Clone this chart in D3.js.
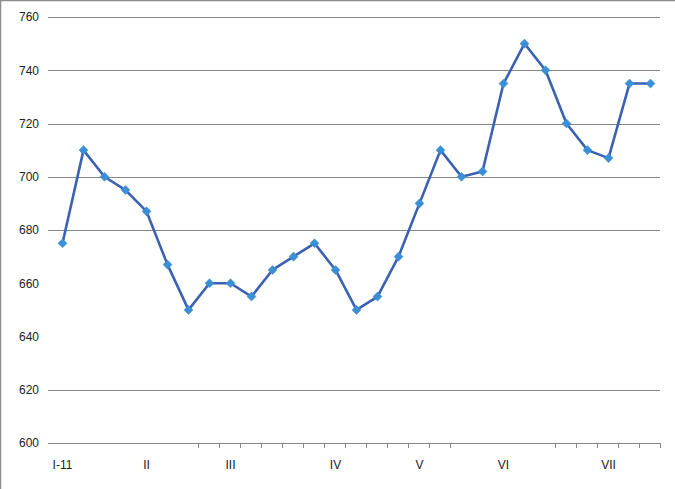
<!DOCTYPE html>
<html><head><meta charset="utf-8">
<script src="https://cdn.jsdelivr.net/npm/d3@7"></script>
<style>body{margin:0;background:#fff}svg{display:block}</style>
</head><body>
<script>
const categories = ["I-11","","","","II","","","","III","","","","","IV","","","","V","","","","VI","","","","","VII","",""];
const values = [675,710,700,695,687,667,650,660,660,655,665,670,675,665,650,655,670,690,710,700,702,735,750,740,720,710,707,735,735];
const yTicks = [600,620,640,660,680,700,720,740,760];
const gridValues = [620,680,700,720,740,760];
const hiddenTickBoundaries = [0,1,2,3,4,5,6,20,21,22,23];

const W = 675, H = 489;
const svg = d3.select("body").append("svg").attr("width", W).attr("height", H);
svg.append("rect").attr("x",0.5).attr("y",0.5).attr("width",W+5).attr("height",H+5).attr("fill","none").attr("stroke","#8c8c8c").attr("stroke-width",1.5);

const x = d3.scaleBand().domain(d3.range(values.length)).range([52, 661]).paddingInner(0).paddingOuter(0);
const y = d3.scaleLinear().domain([600, 760]).range([443, 17]);
const font = "'Liberation Sans', Arial, sans-serif";

// gridlines
svg.append("g").selectAll("line").data(gridValues).join("line")
  .attr("x1", 48).attr("x2", 660)
  .attr("y1", d => Math.round(y(d)) + 0.5).attr("y2", d => Math.round(y(d)) + 0.5)
  .attr("stroke", "#868686").attr("stroke-width", 1);

// y axis labels
const yAxis = d3.axisLeft(y).tickValues(yTicks).tickSize(0).tickPadding(9).tickFormat(d3.format("d"));
const gy = svg.append("g").attr("transform", "translate(48,0)").call(yAxis);
gy.select(".domain").remove();
gy.selectAll("text").attr("font-family", font).attr("font-size", 12).attr("fill", "#222");

// x axis line
svg.append("line").attr("x1", 48).attr("x2", 661).attr("y1", 443.5).attr("y2", 443.5).attr("stroke", "#868686");
// boundary ticks
const boundaries = d3.range(values.length + 1).filter(k => !hiddenTickBoundaries.includes(k));
svg.append("g").selectAll("line").data(boundaries).join("line")
  .attr("x1", k => Math.round(52 + x.step() * k) - 0.5)
  .attr("x2", k => Math.round(52 + x.step() * k) - 0.5)
  .attr("y1", 443).attr("y2", 448).attr("stroke", "#868686");
// x labels
svg.append("g").selectAll("text").data(categories.map((c,i)=>({c,i})).filter(d=>d.c)).join("text")
  .attr("x", d => x(d.i) + x.bandwidth()/2)
  .attr("y", 469)
  .attr("text-anchor", "middle")
  .attr("font-family", font).attr("font-size", 12).attr("fill", "#222")
  .text(d => d.c);

// line
const line = d3.line().x((d,i) => x(i) + x.bandwidth()/2).y(d => y(d));
svg.append("path").datum(values).attr("d", line)
  .attr("fill", "none").attr("stroke", "#3a62b0").attr("stroke-width", 2.6).attr("stroke-linejoin", "round");

// markers
svg.append("g").selectAll("path").data(values).join("path")
  .attr("transform", (d,i) => `translate(${x(i) + x.bandwidth()/2},${y(d)})`)
  .attr("d", d3.symbol(d3.symbolDiamond2, 52)())
  .attr("fill", "#3b8fd4").attr("stroke", "#3b8fd4").attr("stroke-width", 0.5);
</script>
</body></html>
